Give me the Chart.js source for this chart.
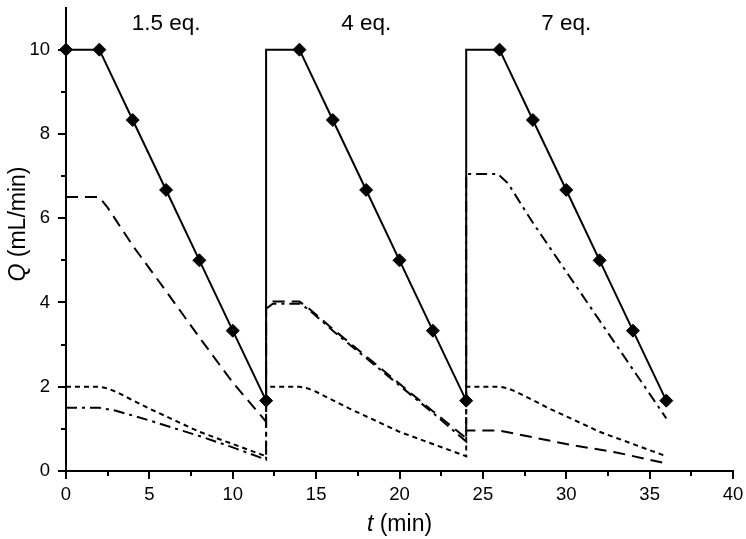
<!DOCTYPE html>
<html>
<head>
<meta charset="utf-8">
<script src="https://cdn.jsdelivr.net/npm/chart.js@4/dist/chart.umd.min.js"></script>
<style>
  html, body { margin: 0; padding: 0; background: #fff; }
  #wrap { width: 746px; height: 539px; position: relative; }
</style>
</head>
<body>
<div id="wrap"><canvas id="c" width="746" height="539"></canvas></div>
<script>
// ---- data ----
const solidT = [0, 2, 4, 6, 8, 10, 12, 12, 14, 16, 18, 20, 22, 24, 24, 26, 28, 30, 32, 34, 36];
const solidQ = [10, 10, 8.33, 6.67, 5, 3.33, 1.67, 10, 10, 8.33, 6.67, 5, 3.33, 1.67, 10, 10, 8.33, 6.67, 5, 3.33, 1.67];
const solidMarker = [1, 1, 1, 1, 1, 1, 1, 0, 1, 1, 1, 1, 1, 1, 0, 1, 1, 1, 1, 1, 1];

const dashT = [0, 2, 2.5, 4, 6, 8, 10, 12, 12, 12.4, 14, 14.5, 16, 18, 20, 22, 24, 24, 26, 30, 33, 36];
const dashQ = [6.5, 6.5, 6.25, 5.35, 4.27, 3.17, 2.1, 1.17, 3.92, 4.02, 4.02, 3.88, 3.37, 2.72, 2.07, 1.42, 0.78, 0.96, 0.96, 0.64, 0.44, 0.18];

const dotT = [0, 2, 2.5, 3, 5, 8, 10, 12, 12, 14, 14.5, 15, 17, 20, 22, 24, 24, 26, 26.5, 27, 29, 32, 34, 36];
const dotQ = [2, 2, 1.96, 1.88, 1.48, 0.93, 0.64, 0.35, 2, 2, 1.96, 1.88, 1.48, 0.93, 0.64, 0.35, 2, 2, 1.96, 1.88, 1.48, 0.93, 0.64, 0.35];

const ddT = [0, 2, 3, 5, 8, 10, 12, 12, 12.4, 14, 14.5, 16, 18, 20, 22, 24, 24, 25.9, 26.5, 28, 30, 32, 34, 36];
const ddQ = [1.5, 1.5, 1.43, 1.2, 0.83, 0.56, 0.27, 3.85, 3.97, 3.97, 3.85, 3.33, 2.68, 2.03, 1.38, 0.7, 7.05, 7.05, 6.83, 5.89, 4.73, 3.57, 2.41, 1.25];

const eqLabels = ['1.5 eq.', '4 eq.', '7 eq.'];
const eqT = [6, 18, 30];
const eqQ = 10.47;

const xMajor = [0, 5, 10, 15, 20, 25, 30, 35, 40];
const xMinor = [2.5, 7.5, 12.5, 17.5, 22.5, 27.5, 32.5, 37.5];
const yMajor = [0, 2, 4, 6, 8, 10];
const yMinor = [1, 3, 5, 7, 9];

const FONT = '"Liberation Sans", Arial, sans-serif';

function pts(t, q) { return t.map((v, i) => ({ x: v, y: q[i] })); }

const annot = {
  id: 'annot',
  afterDraw(chart) {
    const ctx = chart.ctx;
    const xs = chart.scales.x, ys = chart.scales.y;
    const ca = chart.chartArea;
    ctx.save();
    ctx.strokeStyle = '#000';
    ctx.lineWidth = 2;
    // minor ticks
    ctx.beginPath();
    xMinor.forEach(v => {
      const px = Math.round(xs.getPixelForValue(v));
      ctx.moveTo(px, ca.bottom); ctx.lineTo(px, ca.bottom + 5);
    });
    yMinor.forEach(v => {
      const py = Math.round(ys.getPixelForValue(v));
      ctx.moveTo(ca.left, py); ctx.lineTo(ca.left - 5, py);
    });
    ctx.stroke();
    // top labels
    ctx.fillStyle = '#000';
    ctx.font = '22.5px ' + FONT;
    ctx.textAlign = 'center';
    ctx.textBaseline = 'alphabetic';
    eqLabels.forEach((s, i) => {
      ctx.fillText(s, xs.getPixelForValue(eqT[i]), ys.getPixelForValue(eqQ));
    });
    // x title
    ctx.textAlign = 'left';
    const f1 = 'italic 23px ' + FONT, f2 = '23px ' + FONT;
    ctx.font = f1; const w1 = ctx.measureText('t').width;
    ctx.font = f2; const w2 = ctx.measureText(' (min)').width;
    let x0 = (ca.left + ca.right) / 2 - (w1 + w2) / 2;
    ctx.font = f1; ctx.fillText('t', x0, 531);
    ctx.font = f2; ctx.fillText(' (min)', x0 + w1, 531);
    // y title
    ctx.translate(25, 224);
    ctx.rotate(-Math.PI / 2);
    ctx.font = f1; const w3 = ctx.measureText('Q').width;
    ctx.font = f2; const w4 = ctx.measureText(' (mL/min)').width;
    x0 = -(w3 + w4) / 2;
    ctx.font = f1; ctx.fillText('Q', x0, 0);
    ctx.font = f2; ctx.fillText(' (mL/min)', x0 + w3, 0);
    ctx.restore();
  }
};

const common = { fill: false, tension: 0, borderColor: '#000', backgroundColor: '#000', borderWidth: 2, pointRadius: 0, clip: false };

new Chart(document.getElementById('c'), {
  type: 'line',
  data: {
    datasets: [
      Object.assign({}, common, { label: 'dash', data: pts(dashT, dashQ), borderDash: [12, 7] }),
      Object.assign({}, common, { label: 'dot', data: pts(dotT, dotQ), borderDash: [5, 4] }),
      Object.assign({}, common, { label: 'dashdot', data: pts(ddT, ddQ), borderDash: [11, 5, 3, 5] }),
      Object.assign({}, common, {
        label: 'solid', data: pts(solidT, solidQ), borderWidth: 2,
        pointStyle: 'rectRot', pointRadius: solidMarker.map(m => m ? 6.5 : 0),
        pointBorderWidth: 1, pointBackgroundColor: '#000', pointBorderColor: '#000'
      })
    ]
  },
  options: {
    responsive: false,
    animation: false,
    devicePixelRatio: 1,
    layout: { padding: { top: 4, right: 13, left: 0, bottom: 0 } },
    plugins: { legend: { display: false }, tooltip: { enabled: false }, title: { display: false } },
    elements: { line: { borderCapStyle: 'butt' } },
    scales: {
      x: {
        type: 'linear', min: 0, max: 40,
        afterBuildTicks: s => { s.ticks = xMajor.map(v => ({ value: v })); },
        afterFit: s => { s.height = 68; s.paddingLeft = 0; s.paddingRight = 0; },
        ticks: { color: '#000', font: { family: FONT, size: 18.5 }, padding: 5, maxRotation: 0, autoSkip: false },
        grid: { display: true, drawOnChartArea: false, drawTicks: true, tickLength: 8, color: '#000', lineWidth: 2 },
        border: { display: true, color: '#000', width: 2 }
      },
      y: {
        type: 'linear', min: 0, max: 11,
        afterBuildTicks: s => { s.ticks = yMajor.map(v => ({ value: v })); },
        afterFit: s => { s.width = 66; s.paddingTop = 0; s.paddingBottom = 0; },
        ticks: { color: '#000', font: { family: FONT, size: 18.5 }, padding: 8, autoSkip: false },
        grid: { display: true, drawOnChartArea: false, drawTicks: true, tickLength: 8, color: '#000', lineWidth: 2 },
        border: { display: true, color: '#000', width: 2 }
      }
    }
  },
  plugins: [annot]
});
</script>
</body>
</html>
